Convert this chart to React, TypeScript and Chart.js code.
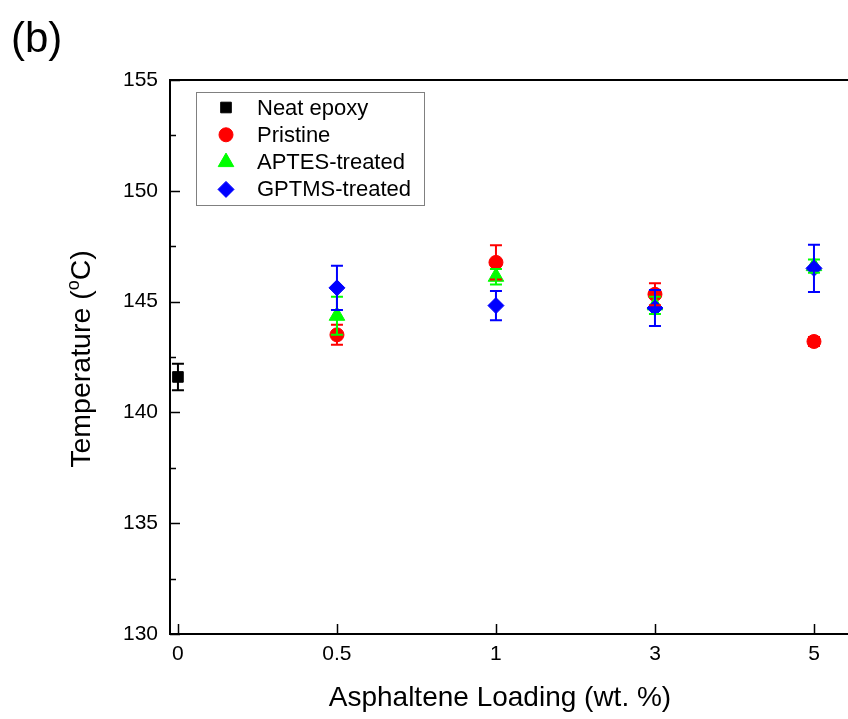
import React, { useEffect, useRef } from 'react';
import { Chart, registerables } from 'chart.js';

Chart.register(...registerables);

// ---------- data ----------
const categories = ['0', '0.5', '1', '3', '5'];
const yMajorTicks = [130, 135, 140, 145, 150, 155];
const yMinorTicks = [132.5, 137.5, 142.5, 147.5, 152.5];
const seriesNames = ['Neat epoxy', 'Pristine', 'APTES-treated', 'GPTMS-treated'];

const neatX = [0];
const neatY = [141.6];
const neatErr = [0.6];

const loadedX = [1, 2, 3, 4];
const pristineY = [143.5, 146.77, 145.33, 143.2];
const pristineErr = [0.45, 0.77, 0.5, 0.2];
const aptesY = [144.36, 146.12, 144.83, 146.6];
const aptesErr = [0.86, 0.35, 0.39, 0.3];
const gptmsY = [145.62, 144.82, 144.71, 146.5];
const gptmsErr = [1.0, 0.66, 0.81, 1.07];

const RED = '#ff0000';
const GREEN = '#00ff00';
const BLUE = '#0000ff';
const BLACK = '#000000';
const FONT = '"Liberation Sans", Arial, sans-serif';

const toPoints = (xs: number[], ys: number[]) => xs.map((x, i) => ({ x, y: ys[i] }));

const errorSets = [
  { xs: neatX, ys: neatY, errs: neatErr, color: BLACK },
  { xs: loadedX, ys: pristineY, errs: pristineErr, color: RED },
  { xs: loadedX, ys: aptesY, errs: aptesErr, color: GREEN },
  { xs: loadedX, ys: gptmsY, errs: gptmsErr, color: BLUE },
];

function drawMarker(ctx: CanvasRenderingContext2D, style: string, x: number, y: number, r: number, color: string) {
  ctx.save();
  ctx.fillStyle = color;
  ctx.strokeStyle = color;
  ctx.lineWidth = 1;
  ctx.beginPath();
  if (style === 'rect') {
    const s = r * Math.SQRT1_2;
    ctx.rect(x - s, y - s, 2 * s, 2 * s);
  } else if (style === 'circle') {
    ctx.arc(x, y, r, 0, Math.PI * 2);
  } else if (style === 'triangle') {
    for (let k = 0; k < 3; k++) {
      const a = (k * 2 * Math.PI) / 3;
      const px = x + Math.sin(a) * r;
      const py = y - Math.cos(a) * r;
      if (k === 0) ctx.moveTo(px, py);
      else ctx.lineTo(px, py);
    }
    ctx.closePath();
  } else if (style === 'rectRot') {
    ctx.moveTo(x, y - r);
    ctx.lineTo(x + r, y);
    ctx.lineTo(x, y + r);
    ctx.lineTo(x - r, y);
    ctx.closePath();
  }
  ctx.fill();
  ctx.stroke();
  ctx.restore();
}

const markerStyles = ['rect', 'circle', 'triangle', 'rectRot'];
const markerRadii = [7.5, 7, 9, 8];
const markerColors = [BLACK, RED, GREEN, BLUE];

const decorPlugin = {
  id: 'decor',
  afterDatasetsDraw(chart: any) {
    const ctx = chart.ctx as CanvasRenderingContext2D;
    const xs = chart.scales.x;
    const ys = chart.scales.y;
    ctx.save();
    ctx.lineWidth = 2;
    errorSets.forEach((set) => {
      ctx.strokeStyle = set.color;
      set.xs.forEach((xv, i) => {
        const px = xs.getPixelForValue(xv);
        const top = ys.getPixelForValue(set.ys[i] + set.errs[i]);
        const bot = ys.getPixelForValue(set.ys[i] - set.errs[i]);
        const cap = 6;
        ctx.beginPath();
        ctx.moveTo(px, top);
        ctx.lineTo(px, bot);
        ctx.moveTo(px - cap, top);
        ctx.lineTo(px + cap, top);
        ctx.moveTo(px - cap, bot);
        ctx.lineTo(px + cap, bot);
        ctx.stroke();
      });
    });
    ctx.restore();
  },
  afterDraw(chart: any) {
    const ctx = chart.ctx as CanvasRenderingContext2D;
    const area = chart.chartArea;
    const xs = chart.scales.x;
    const ys = chart.scales.y;
    ctx.save();
    // frame: top line
    ctx.strokeStyle = BLACK;
    ctx.lineWidth = 2;
    ctx.beginPath();
    ctx.moveTo(area.left - 1, area.top);
    ctx.lineTo(area.right, area.top);
    ctx.stroke();
    // inward ticks
    ctx.lineWidth = 1.5;
    ctx.beginPath();
    yMajorTicks.forEach((v) => {
      const py = Math.round(ys.getPixelForValue(v)) + 0.5;
      ctx.moveTo(area.left, py);
      ctx.lineTo(area.left + 10, py);
    });
    yMinorTicks.forEach((v) => {
      const py = Math.round(ys.getPixelForValue(v)) + 0.5;
      ctx.moveTo(area.left, py);
      ctx.lineTo(area.left + 6, py);
    });
    categories.forEach((_, i) => {
      const px = Math.round(xs.getPixelForValue(i)) + 0.5;
      ctx.moveTo(px, area.bottom);
      ctx.lineTo(px, area.bottom - 10);
    });
    ctx.stroke();

    // legend
    const lx = 196, ly = 92, lw = 228, lh = 113;
    ctx.fillStyle = '#ffffff';
    ctx.fillRect(lx, ly, lw, lh);
    ctx.strokeStyle = '#808080';
    ctx.lineWidth = 1;
    ctx.strokeRect(lx + 0.5, ly + 0.5, lw, lh);
    ctx.font = `22px ${FONT}`;
    ctx.textBaseline = 'middle';
    ctx.textAlign = 'left';
    seriesNames.forEach((name, i) => {
      const cy = 107.5 + i * 27.3;
      drawMarker(ctx, markerStyles[i], 226, cy, markerRadii[i], markerColors[i]);
      ctx.fillStyle = BLACK;
      ctx.fillText(name, 257, cy + 1);
    });

    // x-axis title
    ctx.fillStyle = BLACK;
    ctx.font = `28px ${FONT}`;
    ctx.textAlign = 'center';
    ctx.textBaseline = 'middle';
    ctx.fillText('Asphaltene Loading (wt. %)', xs.getPixelForValue(2) + 4, 698);

    // y-axis title with superscript o
    ctx.save();
    ctx.translate(82, (area.top + area.bottom) / 2 + 2);
    ctx.rotate(-Math.PI / 2);
    const mainFont = `28.5px ${FONT}`;
    const supFont = `18px ${FONT}`;
    const p1 = 'Temperature (';
    const sup = 'o';
    const p2 = 'C)';
    ctx.font = mainFont;
    const w1 = ctx.measureText(p1).width;
    const w3 = ctx.measureText(p2).width;
    ctx.font = supFont;
    const w2 = ctx.measureText(sup).width;
    const total = w1 + w2 + w3;
    let x0 = -total / 2;
    ctx.textAlign = 'left';
    ctx.font = mainFont;
    ctx.fillText(p1, x0, 0);
    x0 += w1;
    ctx.font = supFont;
    ctx.fillText(sup, x0, -8);
    x0 += w2;
    ctx.font = mainFont;
    ctx.fillText(p2, x0, 0);
    ctx.restore();

    // panel label
    ctx.font = `42px ${FONT}`;
    ctx.textAlign = 'left';
    ctx.textBaseline = 'middle';
    ctx.fillText('(b)', 11, 40);
    ctx.restore();
  },
};

export default function App() {
  const canvasRef = useRef<HTMLCanvasElement | null>(null);

  useEffect(() => {
    const canvas = canvasRef.current;
    if (!canvas) return;
    const commonPoint = { showLine: false, pointBorderWidth: 1 };
    const chart = new Chart(canvas, {
      type: 'scatter',
      data: {
        datasets: [
          {
            ...commonPoint,
            label: seriesNames[0],
            data: toPoints(neatX, neatY),
            pointStyle: 'rect',
            pointRadius: markerRadii[0],
            backgroundColor: BLACK,
            borderColor: BLACK,
            order: 3,
          },
          {
            ...commonPoint,
            label: seriesNames[1],
            data: toPoints(loadedX, pristineY),
            pointStyle: 'circle',
            pointRadius: markerRadii[1],
            backgroundColor: RED,
            borderColor: RED,
            order: 2,
          },
          {
            ...commonPoint,
            label: seriesNames[2],
            data: toPoints(loadedX, aptesY),
            pointStyle: 'triangle',
            pointRadius: markerRadii[2],
            backgroundColor: GREEN,
            borderColor: GREEN,
            order: 1,
          },
          {
            ...commonPoint,
            label: seriesNames[3],
            data: toPoints(loadedX, gptmsY),
            pointStyle: 'rectRot',
            pointRadius: markerRadii[3],
            backgroundColor: BLUE,
            borderColor: BLUE,
            order: 0,
          },
        ],
      },
      options: {
        responsive: false,
        animation: false,
        events: [],
        layout: { autoPadding: false, padding: { top: 80, left: 0, right: 0, bottom: 0 } },
        plugins: {
          legend: { display: false },
          tooltip: { enabled: false },
          title: { display: false },
        },
        scales: {
          x: {
            type: 'linear',
            min: -0.05,
            max: 4.214,
            grid: { display: false, drawTicks: false },
            border: { display: true, color: BLACK, width: 2 },
            afterBuildTicks: (s: any) => {
              s.ticks = categories.map((_, i) => ({ value: i }));
            },
            afterFit: (s: any) => {
              s.height = 85;
            },
            ticks: {
              autoSkip: false,
              maxRotation: 0,
              padding: 8,
              color: BLACK,
              font: { family: FONT, size: 21 },
              callback: (v: any) => categories[Math.round(Number(v))] ?? '',
            },
          },
          y: {
            type: 'linear',
            min: 130,
            max: 155,
            grid: { display: false, drawTicks: false },
            border: { display: true, color: BLACK, width: 2 },
            afterBuildTicks: (s: any) => {
              s.ticks = yMajorTicks.map((v) => ({ value: v }));
            },
            afterFit: (s: any) => {
              s.width = 170;
            },
            ticks: {
              padding: 12,
              color: BLACK,
              font: { family: FONT, size: 21 },
              callback: (v: any) => String(v),
            },
          },
        },
      } as any,
      plugins: [decorPlugin],
    });
    return () => chart.destroy();
  }, []);

  return (
    <div style={{ position: 'fixed', left: 0, top: 0, width: 848, height: 719, background: '#ffffff' }}>
      <canvas ref={canvasRef} width={848} height={719} style={{ display: 'block' }} />
    </div>
  );
}
